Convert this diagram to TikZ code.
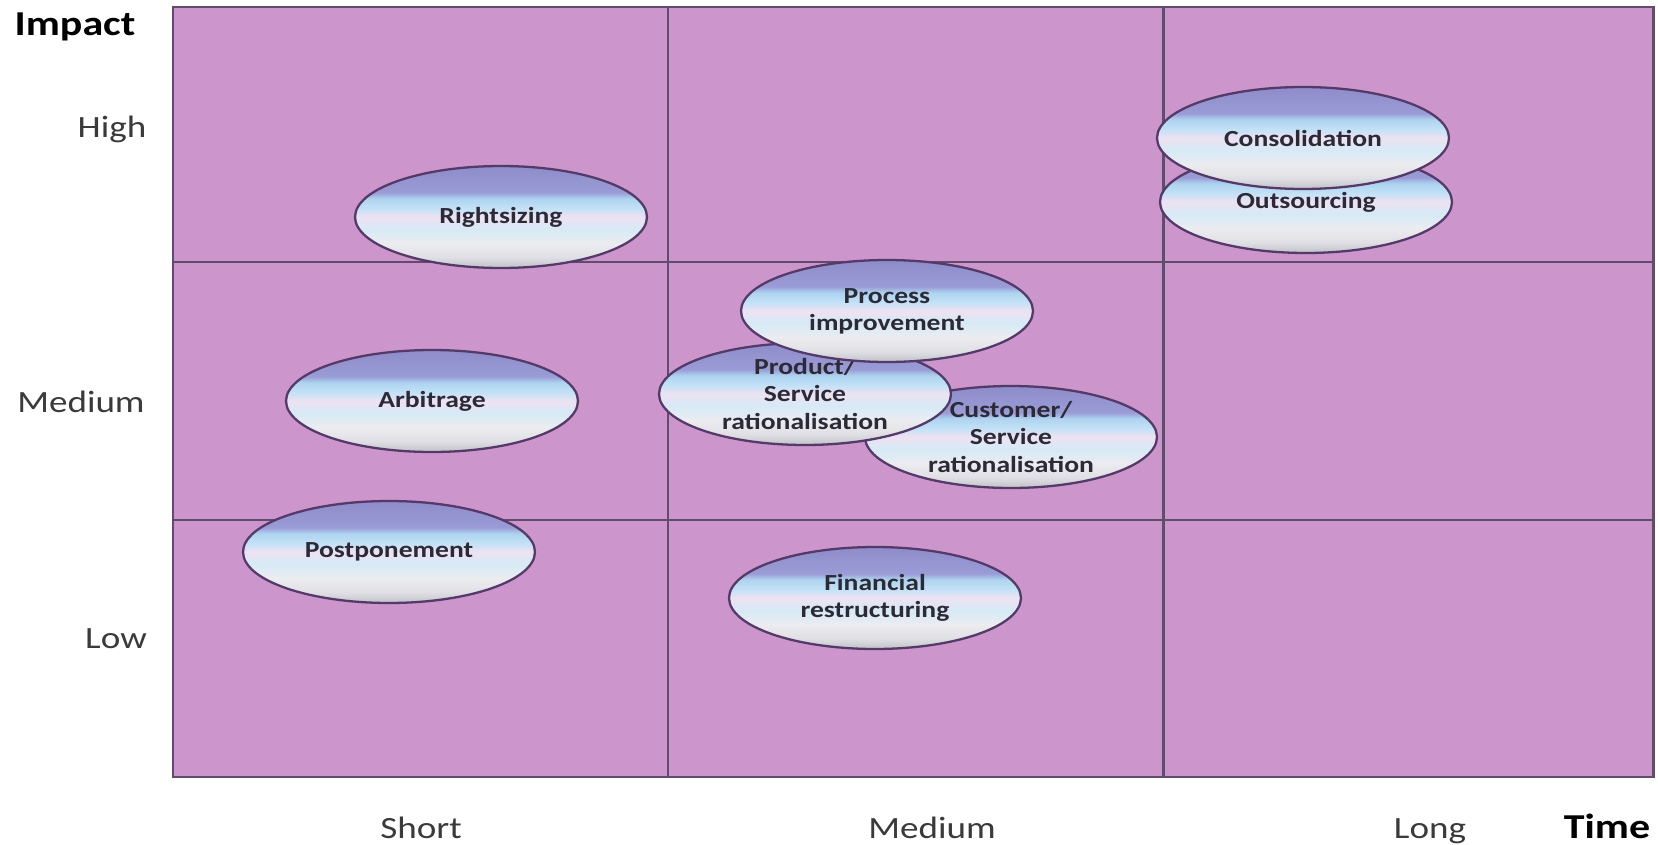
\documentclass[tikz,border=0pt]{standalone}
\usepackage{fontspec}
\setmainfont{Carlito}[FakeStretch=1.2]
\usetikzlibrary{shapes.geometric}

\definecolor{cellbg}{RGB}{204,150,204}
\definecolor{gridline}{RGB}{98,76,108}
\definecolor{rim}{RGB}{84,58,104}
\definecolor{ink}{RGB}{44,42,54}
\definecolor{lbl}{RGB}{58,58,58}
% bands of the bubble fill, top to bottom
\definecolor{bandA}{RGB}{142,140,202}
\definecolor{bandB}{RGB}{154,156,214}
\definecolor{bandC}{RGB}{174,212,240}
\definecolor{bandD}{RGB}{196,226,246}
\definecolor{bandE}{RGB}{238,226,242}
\definecolor{bandF}{RGB}{214,234,246}
\definecolor{bandG}{RGB}{236,236,240}
\definecolor{bandH}{RGB}{222,222,228}
\definecolor{bandI}{RGB}{192,192,200}

\pgfdeclareverticalshading{bubbleshade}{100bp}{color(0bp)=(bandI); color(25bp)=(bandI);
  color(30bp)=(bandH); color(37bp)=(bandG); color(44bp)=(bandF); color(50bp)=(bandE);
  color(54bp)=(bandD); color(59bp)=(bandC); color(62bp)=(bandB); color(75bp)=(bandA);
  color(100bp)=(bandA)}

\tikzset{
  bubble/.style = {ellipse, draw = rim, line width = 1.3pt, shade, shading = bubbleshade,
    minimum width = 5.84cm, minimum height = 2.04cm, inner sep = 0pt, align = center,
    text = ink, font = \fontsize{13.1}{15.4}\selectfont\bfseries},
  level/.style = {anchor = base, text = lbl, font = \fontsize{17.6}{20}\selectfont},
  axisname/.style = {anchor = base, text = black, font = \fontsize{19.9}{22}\selectfont\bfseries}
}

\begin{document}
\begin{tikzpicture} [x = 0.02cm, y = -0.02cm]
   \useasboundingbox (0,0) rectangle (1658,845);

   % the 3x3 grid
   \fill[cellbg] (173,7) rectangle (1653,777);
   \draw[gridline, line width = 1.7pt] (173,7) rectangle (1653,777);
   \foreach \gx in {668,1163}
      \draw[gridline, line width = 1.7pt] (\gx,7) -- (\gx,777);
   \foreach \gy in {262,520}
      \draw[gridline, line width = 1.7pt] (173,\gy) -- (1653,\gy);

   % axes
   \node (impact)[axisname] at (75,35) {Impact};
   \node (high)[level] at (112,137) {High};
   \node (medimp)[level] at (81,412) {Medium};
   \node (low)[level] at (116,648) {Low};
   \node (short)[level] at (421,838) {Short};
   \node (medtime)[level] at (932,838) {Medium};
   \node (long)[level] at (1430,838) {Long};
   \node (time)[axisname] at (1607,838) {Time};

   % strategies
   \node (rightsizing)[bubble] at (501,217) {Rightsizing};
   \node (arbitrage)[bubble] at (432,401) {Arbitrage};
   \node (postponement)[bubble] at (389,552) {Postponement};
   \node (financial)[bubble] at (875,598) {Financial\\restructuring};
   \node (customer)[bubble] at (1011,437) {Customer/\\Service\\rationalisation};
   \node (product)[bubble] at (805,394) {Product/\\Service\\rationalisation};
   \node (process)[bubble] at (887,311) {Process\\improvement};
   \node (outsourcing)[bubble] at (1306,202) {Outsourcing};
   \node (consolidation)[bubble] at (1303,138) {Consolidation};

\end{tikzpicture}
\end{document}
